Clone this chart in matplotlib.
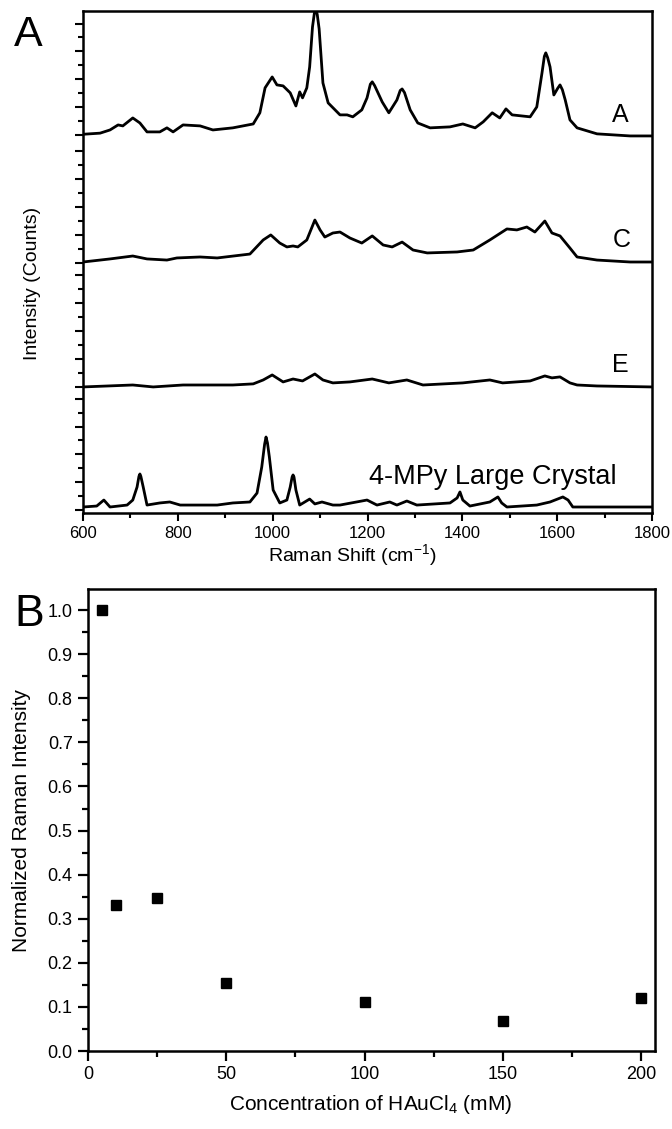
import matplotlib
matplotlib.use("Agg")
import matplotlib.pyplot as plt

plt.rcParams['font.family'] = ['Liberation Sans', 'DejaVu Sans']
plt.rcParams['mathtext.fontset'] = 'custom'
plt.rcParams['mathtext.rm'] = 'Liberation Sans'
plt.rcParams['mathtext.it'] = 'Liberation Sans:italic'

# --- panel A: traced Raman spectra (intensity above each trace's own baseline, a.u.)
wn_a = [600, 636, 657, 674, 684, 705, 720, 735, 762, 777, 790, 811, 847, 874, 916, 959,
        973, 984, 999, 1009, 1022, 1037, 1049, 1057, 1063, 1072, 1078, 1084, 1088, 1091,
        1094, 1098, 1106, 1117, 1142, 1157, 1169, 1188, 1199, 1206, 1210, 1215, 1231, 1245,
        1262, 1269, 1273, 1278, 1290, 1306, 1332, 1374, 1401, 1427, 1444, 1463, 1479, 1492,
        1505, 1543, 1557, 1568, 1573, 1576, 1580, 1585, 1593, 1601, 1606, 1611, 1617, 1627,
        1642, 1684, 1754, 1800]
int_a = [0.01, 0.09, 0.32, 0.68, 0.61, 1.18, 0.82, 0.18, 0.18, 0.47, 0.18, 0.68, 0.61, 0.32,
         0.47, 0.75, 1.55, 3.34, 4.12, 3.55, 3.48, 2.98, 2.04, 3.05, 2.62, 3.34, 4.84, 7.71,
         8.7, 9.0, 8.6, 7.57, 3.69, 2.26, 1.40, 1.40, 1.26, 1.76, 2.62, 3.6, 3.77, 3.5, 2.33,
         1.55, 2.47, 3.15, 3.26, 3.0, 1.76, 0.82, 0.47, 0.54, 0.75, 0.47, 0.90, 1.55, 1.18,
         1.83, 1.40, 1.26, 1.97, 4.41, 5.6, 5.85, 5.5, 4.84, 2.83, 3.3, 3.55, 3.2, 2.47, 1.04,
         0.47, 0.04, -0.11, -0.11]

wn_c = [600, 657, 705, 735, 777, 798, 847, 883, 952, 980, 996, 1015, 1030, 1043, 1053, 1072,
        1089, 1100, 1110, 1127, 1142, 1163, 1188, 1210, 1233, 1252, 1273, 1296, 1326, 1389,
        1423, 1458, 1494, 1515, 1536, 1553, 1574, 1589, 1606, 1627, 1642, 1684, 1754, 1800]
int_c = [0, 0.22, 0.43, 0.22, 0.14, 0.29, 0.36, 0.29, 0.57, 1.58, 1.94, 1.36, 1.08, 1.15,
         1.08, 1.58, 3.01, 2.30, 1.79, 2.08, 2.15, 1.72, 1.36, 1.87, 1.22, 1.08, 1.43, 0.86,
         0.65, 0.72, 0.86, 1.58, 2.37, 2.30, 2.51, 2.15, 2.94, 2.08, 1.87, 1.00, 0.36, 0.14,
         0, 0]

wn_e = [600, 705, 748, 811, 916, 959, 980, 999, 1022, 1043, 1063, 1089, 1106, 1127, 1163,
        1210, 1245, 1283, 1317, 1401, 1458, 1485, 1543, 1574, 1589, 1606, 1627, 1642, 1684, 1800]
int_e = [0, 0.14, 0, 0.14, 0.14, 0.22, 0.50, 0.86, 0.36, 0.57, 0.43, 0.93, 0.50, 0.29, 0.36,
         0.57, 0.29, 0.50, 0.14, 0.29, 0.50, 0.29, 0.43, 0.79, 0.65, 0.72, 0.29, 0.14, 0.07, 0]

wn_x = [600, 629, 644, 657, 693, 705, 714, 718, 720, 722, 727, 735, 762, 783, 805, 883, 916,
        952, 967, 977, 983, 986, 989, 993, 1001, 1015, 1030, 1037, 1041, 1043, 1045, 1049,
        1057, 1078, 1089, 1104, 1127, 1142, 1199, 1220, 1247, 1262, 1283, 1304, 1374, 1389,
        1395, 1401, 1416, 1458, 1475, 1483, 1494, 1557, 1585, 1612, 1623, 1633, 1684, 1800]
int_x = [0, 0.07, 0.50, 0, 0.14, 0.50, 1.43, 2.2, 2.37, 2.2, 1.43, 0.14, 0.29, 0.36, 0.14,
         0.14, 0.29, 0.36, 1.00, 2.87, 4.5, 5.02, 4.6, 3.59, 1.22, 0.29, 0.50, 1.43, 2.15,
         2.30, 2.15, 1.22, 0.14, 0.57, 0.22, 0.36, 0.14, 0.14, 0.50, 0.14, 0.36, 0.14, 0.43,
         0.14, 0.29, 0.65, 1.08, 0.50, 0.07, 0.36, 0.72, 0.29, 0, 0.14, 0.36, 0.72, 0.50, 0,
         0, 0]

spectra = [(wn_a, int_a, 27.15, 'A'), (wn_c, int_c, 18.0, 'C'),
           (wn_e, int_e, 9.04, 'E'), (wn_x, int_x, 0.43, '4-MPy Large Crystal')]

# --- panel B
conc = [5, 10, 25, 50, 100, 150, 200]
norm_int = [1.0, 0.331, 0.346, 0.155, 0.112, 0.069, 0.121]

W, H = 672, 1129
fig = plt.figure(figsize=(W / 100, H / 100), dpi=100)


def box(l, t, r, b):
    return [l / W, 1 - b / H, (r - l) / W, (b - t) / H]


# top panel
ax1 = fig.add_axes(box(83, 11, 652, 513))
for wn, inten, off, lab in spectra:
    ax1.plot(wn, [v + off for v in inten], color='black', lw=2.0,
             solid_joinstyle='round')
ax1.set_xlim(600, 1800)
ax1.set_ylim(0, 36)
ax1.set_xticks([600, 800, 1000, 1200, 1400, 1600, 1800])
ax1.set_xticks([700, 900, 1100, 1300, 1500, 1700], minor=True)

# stacked-panel style ticks on the left axis
panel_starts = [0.2, 9.04, 17.95, 27.1]
major_y = [s + k for s in panel_starts for k in range(0, 9, 2)]
minor_y = [s + k for s in panel_starts for k in range(1, 9, 2)]
ax1.set_yticks(major_y)
ax1.set_yticks(minor_y, minor=True)
ax1.set_yticklabels([])
ax1.tick_params(axis='both', which='major', direction='out', length=6, width=1.5,
                labelsize=12, top=False, right=False)
ax1.tick_params(axis='both', which='minor', direction='out', length=3.5, width=1.5,
                top=False, right=False)
ax1.tick_params(axis='x', pad=3)
for s in ax1.spines.values():
    s.set_linewidth(1.8)

label_pos = {'A': (1733, 28.55), 'C': (1737, 19.58), 'E': (1733, 10.6),
             '4-MPy Large Crystal': (1465, 2.6)}
label_size = {'A': 18, 'C': 18, 'E': 18, '4-MPy Large Crystal': 19.5}
for wn, inten, off, lab in spectra:
    x, y = label_pos[lab]
    ax1.text(x, y, lab, ha='center', va='center', fontsize=label_size[lab])

fig.text(33 / W, 1 - 283 / H, 'Intensity (Counts)', rotation=90, ha='center',
         va='center', fontsize=14)
fig.text(352 / W, 1 - 555 / H, 'Raman Shift (cm$^{-1}$)', ha='center', va='center',
         fontsize=14)
fig.text(28 / W, 1 - 35 / H, 'A', ha='center', va='center', fontsize=31)

# bottom panel
ax2 = fig.add_axes(box(88, 589, 655, 1051))
ax2.plot(conc, norm_int, ls='none', marker='s', ms=6.5, color='black')
ax2.set_xlim(0, 205)
ax2.set_ylim(0, 1.048)
ax2.set_xticks([0, 50, 100, 150, 200])
ax2.set_xticks([25, 75, 125, 175], minor=True)
ax2.set_yticks([i / 10 for i in range(11)])
ax2.set_yticks([i / 10 + 0.05 for i in range(10)], minor=True)
ax2.set_yticklabels(['%.1f' % (i / 10) for i in range(11)])
ax2.tick_params(axis='both', which='major', direction='out', length=7, width=1.6,
                labelsize=13, top=False, right=False, pad=4)
ax2.tick_params(axis='both', which='minor', direction='out', length=4, width=1.6,
                top=False, right=False)
for s in ax2.spines.values():
    s.set_linewidth(1.8)

fig.text(22 / W, 1 - 820 / H, 'Normalized Raman Intensity', rotation=90, ha='center',
         va='center', fontsize=15)
fig.text(371 / W, 1 - 1105 / H, 'Concentration of HAuCl$_4$ (mM)', ha='center',
         va='center', fontsize=15)
fig.text(29 / W, 1 - 614 / H, 'B', ha='center', va='center', fontsize=32)

fig.savefig('out.png', dpi=100)
